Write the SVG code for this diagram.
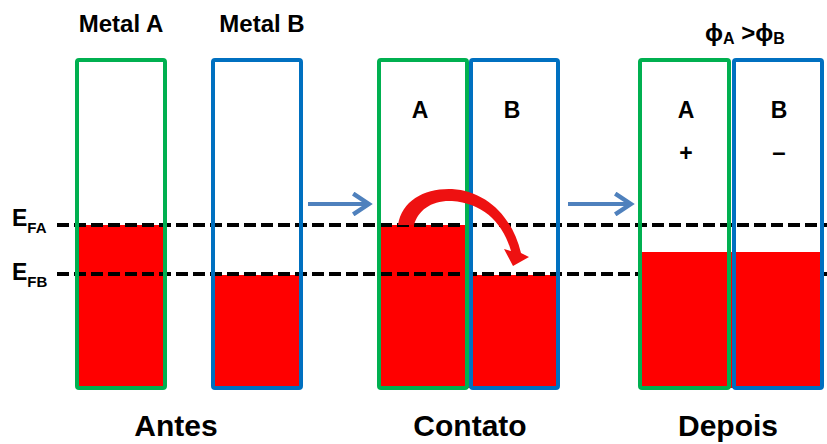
<svg xmlns="http://www.w3.org/2000/svg" width="827" height="444" viewBox="0 0 827 444">
<style>
.t{font-family:"Liberation Sans",Arial,sans-serif;font-weight:bold;fill:#000}
.g{fill:none;stroke:#00B050;stroke-width:4}
.b{fill:none;stroke:#0070C0;stroke-width:4}
.red{fill:#FF0000}
.dash{stroke:#000;stroke-width:4;stroke-dasharray:12 5;fill:none}
.ba{stroke:#4F81BD;stroke-width:4;fill:none}
</style>
<defs>
<marker id="ah" markerWidth="6" markerHeight="6" refX="4" refY="3" orient="auto" markerUnits="strokeWidth">
<path d="M0.3,0.4 L4.2,3 L0.3,5.6" fill="none" stroke="#4F81BD" stroke-width="1.1"/>
</marker>
</defs>
<rect width="827" height="444" fill="#fff"/>
<g id="fills">
<rect class="red" x="77" y="225" width="88" height="163"/>
<rect class="red" x="213" y="275" width="88" height="113"/>
<rect class="red" x="379" y="225" width="90" height="163"/>
<rect class="red" x="469" y="275" width="89" height="113"/>
</g>
<g id="connectors">
<line class="dash" x1="57" y1="225" x2="827" y2="225"/>
<line class="dash" x1="57" y1="274" x2="827" y2="274"/>
<line class="ba" x1="308" y1="204" x2="368" y2="204" marker-end="url(#ah)"/>
<line class="ba" x1="568" y1="204" x2="630" y2="204" marker-end="url(#ah)"/>
</g>
<g id="depois-fills">
<rect class="red" x="640" y="252" width="91" height="136"/>
<rect class="red" x="731" y="252" width="91" height="136"/>
</g>
<g id="metalA"><rect class="g" x="77" y="60" width="88" height="328" rx="2"/></g>
<g id="metalB"><rect class="b" x="213" y="60" width="88" height="328" rx="2"/></g>
<g id="contatoA"><rect class="g" x="379" y="60" width="88" height="328" rx="2"/></g>
<g id="contatoB"><rect class="b" x="471" y="60" width="87" height="328" rx="2"/></g>
<g id="depoisA"><rect class="g" x="640" y="60" width="89" height="328" rx="2"/></g>
<g id="depoisB"><rect class="b" x="734" y="60" width="88" height="328" rx="2"/></g>
<g id="curved-arrow">
<path fill="#EE1111" d="M398 225 C402 200 425 188 452 189 C485 191 512 215 521 253 L529 257 L513 266 L504 249 L511 251 C503 222 482 203 452 201 C432 200 418 210 414 225 Z"/>
</g>
<g id="labels">
<text class="t" x="121" y="32" font-size="24" text-anchor="middle">Metal A</text>
<text class="t" x="262" y="32" font-size="24" text-anchor="middle">Metal B</text>
<text class="t" x="705" y="41" font-size="24">ϕ<tspan font-size="16" dy="3">A</tspan><tspan dy="-3"> &gt;ϕ</tspan><tspan font-size="16" dy="3">B</tspan></text>
<text class="t" x="420" y="118" font-size="23" text-anchor="middle">A</text>
<text class="t" x="512" y="118" font-size="23" text-anchor="middle">B</text>
<text class="t" x="686" y="118" font-size="23" text-anchor="middle">A</text>
<text class="t" x="779" y="118" font-size="23" text-anchor="middle">B</text>
<text class="t" x="686" y="161" font-size="23" text-anchor="middle">+</text>
<text class="t" x="779" y="160" font-size="24" text-anchor="middle">–</text>
<text class="t" x="12" y="226" font-size="23">E<tspan font-size="15" dy="7">FA</tspan></text>
<text class="t" x="12" y="280" font-size="23">E<tspan font-size="15" dy="7">FB</tspan></text>
<text class="t" x="176" y="436" font-size="30" text-anchor="middle">Antes</text>
<text class="t" x="470" y="436" font-size="30" text-anchor="middle">Contato</text>
<text class="t" x="728" y="436" font-size="30" text-anchor="middle">Depois</text>
</g>
</svg>
